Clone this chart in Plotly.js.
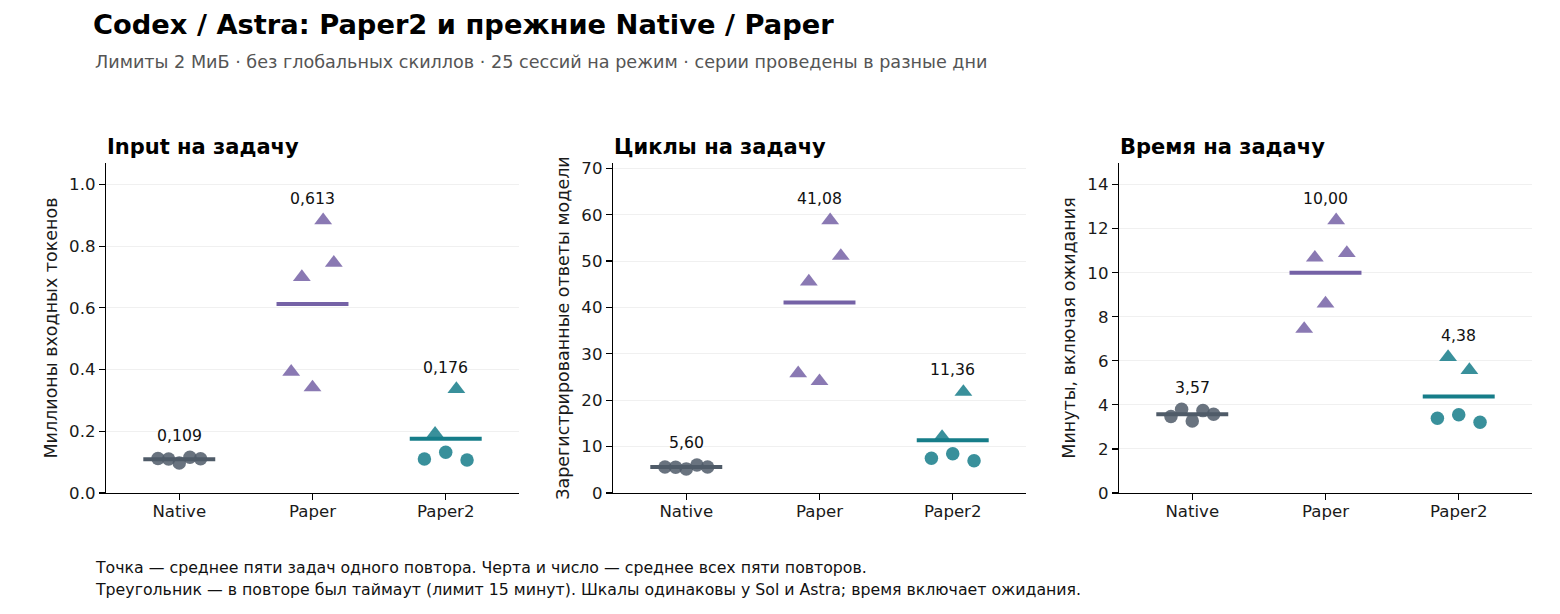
<!DOCTYPE html>
<html>
<head>
<meta charset="utf-8">
<script src="https://cdn.plot.ly/plotly-3.0.1.min.js"></script>
<style>html,body{margin:0;padding:0;background:#fff}</style>
</head>
<body>
<div id="chart" style="width:1560px;height:614px"></div>
<script>
var modes = ['Native', 'Paper', 'Paper2'];
var colors = ['#4f5b68', '#7562a6', '#167d89'];

// был ли таймаут в повторе (треугольник)
var timeoutNative = [false, false, false, false, false];
var timeoutPaper = [true, true, true, true, true];
var timeoutPaper2 = [false, true, false, true, false];

// Input на задачу, млн токенов
var inputNative = [0.112, 0.110, 0.097, 0.116, 0.111];
var inputPaper = [0.393, 0.700, 0.342, 0.884, 0.746];
var inputPaper2 = [0.110, 0.192, 0.132, 0.337, 0.107];

// циклы на задачу
var cyclesNative = [5.60, 5.55, 5.20, 6.05, 5.60];
var cyclesPaper = [25.8, 45.6, 24.1, 58.8, 51.1];
var cyclesPaper2 = [7.50, 12.10, 8.45, 21.80, 6.95];

// время на задачу, минуты
var timeNative = [3.47, 3.80, 3.27, 3.74, 3.57];
var timePaper = [7.45, 10.68, 8.60, 12.38, 10.89];
var timePaper2 = [3.39, 6.17, 3.55, 5.58, 3.21];

var jitter = [-0.16, -0.08, 0, 0.08, 0.16];
var halfLine = 0.27;
var W = 1560, H = 614;
var FONT = 'DejaVu Sans, sans-serif';

var panels = [
  {title: 'Input на задачу', ytitle: 'Миллионы входных токенов', dtick: 0.2, fmt: '.1f', dec: 3,
   data: [inputNative, inputPaper, inputPaper2], x0: 106, x1: 519},
  {title: 'Циклы на задачу', ytitle: 'Зарегистрированные ответы модели', dtick: 10, fmt: 'd', dec: 2,
   data: [cyclesNative, cyclesPaper, cyclesPaper2], x0: 613, x1: 1026},
  {title: 'Время на задачу', ytitle: 'Минуты, включая ожидания', dtick: 2, fmt: 'd', dec: 2,
   data: [timeNative, timePaper, timePaper2], x0: 1119, x1: 1532}
];
var timeouts = [timeoutNative, timeoutPaper, timeoutPaper2];

var yBottom = 493, yTop = 163;
var traces = [];
var annotations = [];
var layout = {
  width: W, height: H,
  margin: {l: 0, r: 0, t: 0, b: 0},
  paper_bgcolor: '#fff', plot_bgcolor: '#fff',
  showlegend: false,
  font: {family: FONT, size: 16, color: '#1a1a1a'},
  title: {
    text: 'Codex / Astra: Paper2 и прежние Native / Paper',
    font: {family: FONT, size: 27.3, weight: 'bold', color: '#000'},
    x: 93 / W, xanchor: 'left', xref: 'paper',
    y: 1 - 24 / H, yanchor: 'middle', yref: 'paper'
  }
};

function fmtNum(v, dec) {
  return v.toFixed(dec).replace('.', ',');
}

panels.forEach(function(p, k) {
  var sfx = k === 0 ? '' : String(k + 1);
  var xa = 'x' + sfx, ya = 'y' + sfx;
  var allMax = 0;
  p.data.forEach(function(vals) { allMax = Math.max(allMax, Math.max.apply(null, vals)); });

  p.data.forEach(function(vals, m) {
    traces.push({
      type: 'scatter', mode: 'markers', xaxis: xa, yaxis: ya,
      x: vals.map(function(v, i) { return m + jitter[i]; }),
      y: vals,
      marker: {
        color: colors[m], opacity: 0.85, line: {width: 0},
        symbol: timeouts[m].map(function(t) { return t ? 'triangle-up' : 'circle'; }),
        size: timeouts[m].map(function(t) { return t ? 15.5 : 13.5; })
      },
      hoverinfo: 'y'
    });
    var mean = vals.reduce(function(a, b) { return a + b; }, 0) / vals.length;
    traces.push({
      type: 'scatter', mode: 'lines', xaxis: xa, yaxis: ya,
      x: [m - halfLine, m + halfLine], y: [mean, mean],
      line: {color: colors[m], width: 4},
      hoverinfo: 'skip'
    });
    annotations.push({
      xref: xa, yref: ya, x: m, y: Math.max.apply(null, vals),
      text: fmtNum(mean, p.dec), showarrow: false,
      yshift: 22, yanchor: 'middle',
      font: {family: FONT, size: 15.7, color: '#111'}
    });
  });

  layout['xaxis' + sfx] = {
    domain: [p.x0 / W, p.x1 / W], anchor: ya,
    range: [-0.55, 2.55], tickvals: [0, 1, 2], ticktext: modes,
    showline: true, linecolor: '#000', linewidth: 1.2,
    ticks: 'outside', ticklen: 6, tickcolor: '#000', tickwidth: 1.2,
    ticklabelstandoff: -3,
    showgrid: false, zeroline: false, fixedrange: true,
    tickfont: {family: FONT, size: 16.6, color: '#1a1a1a'}
  };
  layout['yaxis' + sfx] = {
    domain: [1 - yBottom / H, 1 - yTop / H], anchor: xa,
    range: [0, allMax * 1.21], dtick: p.dtick, tick0: 0, tickformat: p.fmt,
    showline: true, linecolor: '#000', linewidth: 1.2,
    ticks: 'outside', ticklen: 6, tickcolor: '#000', tickwidth: 1.2,
    showgrid: true, gridcolor: '#ececec', gridwidth: 0.8, zeroline: false,
    tickfont: {family: FONT, size: 16.6, color: '#1a1a1a'},
    title: {text: p.ytitle, standoff: 7, font: {family: FONT, size: 17.5, color: '#1a1a1a'}}
  };
  annotations.push({
    xref: 'paper', yref: 'paper', x: (p.x0 - 1) / W, y: 1 - 147 / H,
    xanchor: 'left', yanchor: 'middle', showarrow: false,
    text: p.title, font: {family: FONT, size: 21, weight: 'bold', color: '#000'}
  });
});

annotations.push({
  xref: 'paper', yref: 'paper', x: 93 / W, y: 1 - 62 / H,
  xanchor: 'left', yanchor: 'middle', showarrow: false,
  text: 'Лимиты 2 МиБ · без глобальных скиллов · 25 сессий на режим · серии проведены в разные дни',
  font: {family: FONT, size: 17.6, color: '#555'}
});
annotations.push({
  xref: 'paper', yref: 'paper', x: 93 / W, y: 1 - 567 / H,
  xanchor: 'left', yanchor: 'middle', showarrow: false,
  text: 'Точка — среднее пяти задач одного повтора. Черта и число — среднее всех пяти повторов.',
  font: {family: FONT, size: 15.75, color: '#111'}
});
annotations.push({
  xref: 'paper', yref: 'paper', x: 93 / W, y: 1 - 589 / H,
  xanchor: 'left', yanchor: 'middle', showarrow: false,
  text: 'Треугольник — в повторе был таймаут (лимит 15 минут). Шкалы одинаковы у Sol и Astra; время включает ожидания.',
  font: {family: FONT, size: 15.75, color: '#111'}
});
layout.annotations = annotations;

Plotly.newPlot('chart', traces, layout, {displayModeBar: false, staticPlot: true});
</script>
</body>
</html>
